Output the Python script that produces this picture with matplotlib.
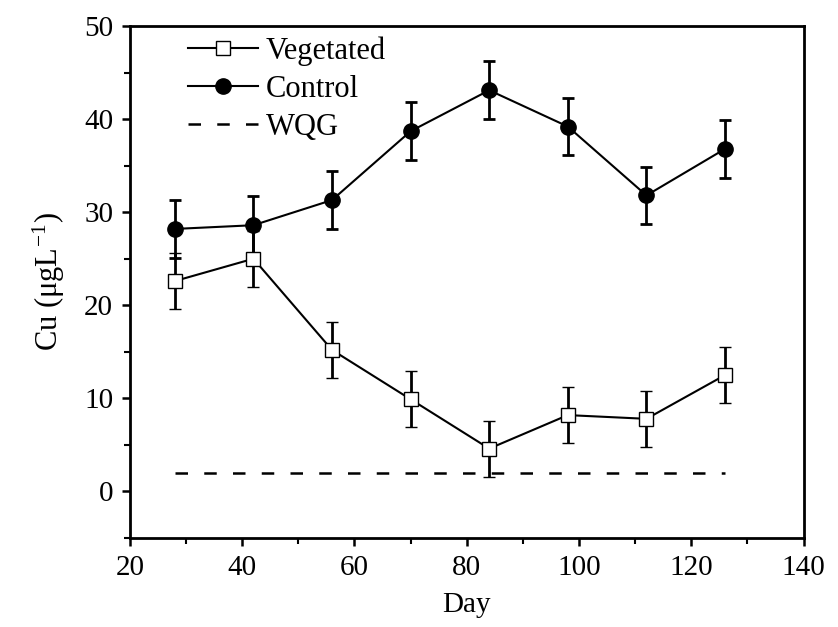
import matplotlib
matplotlib.use("Agg")
import matplotlib.pyplot as plt
from matplotlib.lines import Line2D

plt.rcParams['font.family'] = ['Liberation Serif', 'DejaVu Serif']
plt.rcParams['mathtext.fontset'] = 'stix'

days = [28, 42, 56, 70, 84, 98, 112, 126]
vegetated = [22.6, 25.0, 15.2, 9.9, 4.6, 8.2, 7.8, 12.5]
vegetated_err = [3.0, 3.0, 3.0, 3.0, 3.0, 3.0, 3.0, 3.0]
control = [28.2, 28.6, 31.3, 38.7, 43.1, 39.2, 31.8, 36.8]
control_err = [3.1, 3.1, 3.1, 3.1, 3.1, 3.1, 3.1, 3.1]
wqg_x = [28, 126]
wqg_y = [2, 2]

fig = plt.figure(figsize=(8.38, 6.27), dpi=100)
ax = fig.add_axes([0.155, 0.142, 0.804, 0.8165])

ax.plot(wqg_x, wqg_y, 'k--', lw=1.8, dashes=(5, 6.5), zorder=1)
ax.errorbar(days, vegetated, yerr=vegetated_err, fmt='-s', color='k', mfc='white',
            mec='k', ms=10, mew=1.0, lw=1.5, elinewidth=2, capsize=4.5, capthick=2,
            zorder=3)
ax.errorbar(days, control, yerr=control_err, fmt='-o', color='k', mfc='k',
            mec='k', ms=11, lw=1.5, elinewidth=2, capsize=4.5, capthick=2,
            zorder=3)

ax.set_xlim(20, 140)
ax.set_ylim(-5, 50)
ax.set_xticks([20, 40, 60, 80, 100, 120, 140])
ax.set_xticks([30, 50, 70, 90, 110, 130], minor=True)
ax.set_yticks([0, 10, 20, 30, 40, 50])
ax.set_yticks([-5, 5, 15, 25, 35, 45], minor=True)
ax.tick_params(axis='both', which='major', direction='out', length=6, width=1.8,
               labelsize=21, pad=6)
ax.tick_params(axis='both', which='minor', direction='out', length=4, width=1.5)
for s in ax.spines.values():
    s.set_linewidth(2)

ax.set_xlabel('Day', fontsize=21, labelpad=8)
ax.set_ylabel('Cu (μgL$^{\\mathregular{-1}}$)', fontsize=22, labelpad=12)

handles = [
    Line2D([], [], color='k', lw=1.5, marker='s', ms=10, mfc='white', mec='k', mew=1.0),
    Line2D([], [], color='k', lw=1.5, marker='o', ms=11, mfc='k', mec='k'),
    Line2D([], [], color='k', lw=1.8, ls='--', dashes=(5, 6.5)),
]
labels = ['Vegetated', 'Control', 'WQG']
ax.legend(handles, labels, loc='upper left', frameon=False, fontsize=22,
          handlelength=2.3, borderaxespad=0.0, bbox_to_anchor=(0.068, 1.004),
          labelspacing=0.3, handletextpad=0.25)

fig.savefig('out.png', dpi=100)
